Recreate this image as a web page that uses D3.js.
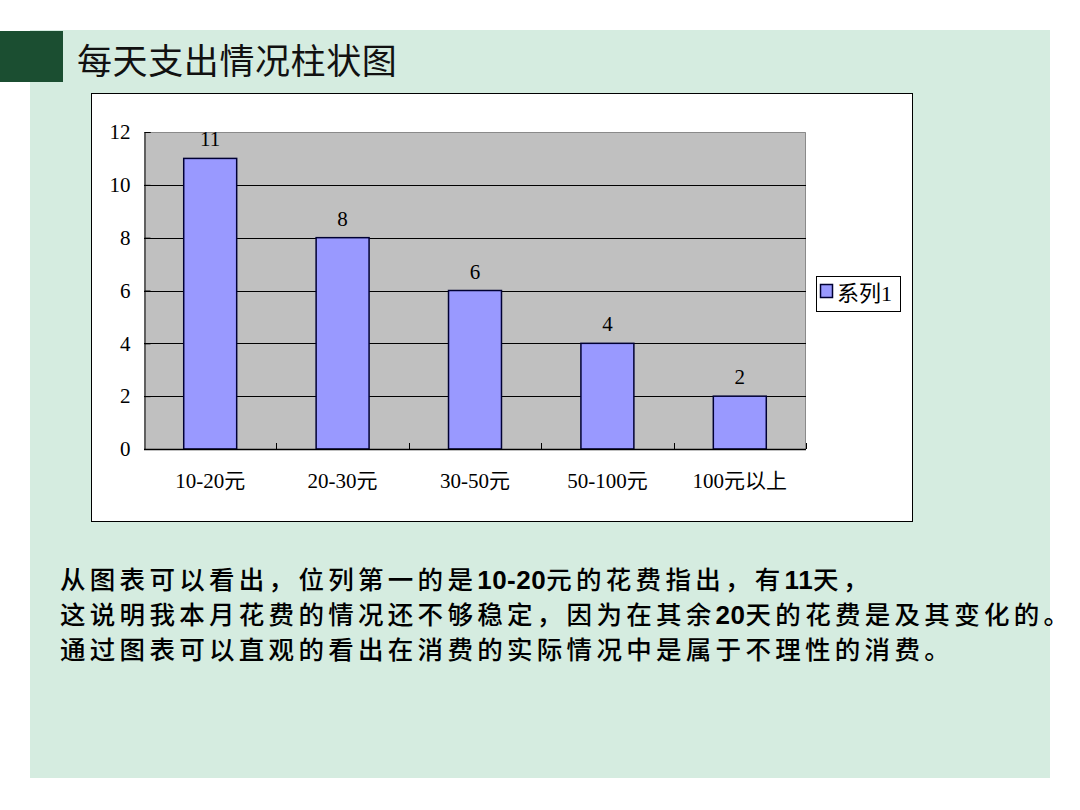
<!DOCTYPE html>
<html><head><meta charset="utf-8">
<script src="https://cdn.jsdelivr.net/npm/d3@7/dist/d3.min.js"></script>
<style>
html,body{margin:0;padding:0;background:#fff;}
svg{display:block;}
</style></head>
<body>
<svg id="c" width="1080" height="810"></svg>
<script>
const title = "每天支出情况柱状图";
const categories = ["10-20元", "20-30元", "30-50元", "50-100元", "100元以上"];
const values = [11, 8, 6, 4, 2];
const yTicks = [0, 2, 4, 6, 8, 10, 12];
const seriesName = "系列1";
const lines = [
  [["从图表可以看出，位列第一的是", false], ["10-20", true], ["元的花费指出，有", false], ["11", true], ["天，", false]],
  [["这说明我本月花费的情况还不够稳定，因为在其余", false], ["20", true], ["天的花费是及其变化的。", false]],
  [["通过图表可以直观的看出在消费的实际情况中是属于不理性的消费。", false]]
];

const svg = d3.select("#c");
const serif = "'Liberation Serif','Noto Sans CJK SC',serif";
const cjk = "'Noto Sans CJK SC','Noto Sans',sans-serif";

// slide background
svg.append("rect").attr("x",30).attr("y",30).attr("width",1020).attr("height",748).attr("fill","#D5ECE0");
svg.append("rect").attr("x",0).attr("y",31).attr("width",63).attr("height",51).attr("fill","#1B4E31");
svg.append("text").attr("x",77).attr("y",74).attr("font-family",cjk).attr("font-size",35)
  .attr("letter-spacing",0.6).attr("fill","#111").text(title);

// chart frame
svg.append("rect").attr("x",91.5).attr("y",93.5).attr("width",821).attr("height",428)
  .attr("fill","#fff").attr("stroke","#000").attr("stroke-width",1);

const L = 144, R = 806, T = 132, B = 449;
const x = d3.scaleBand().domain(categories).range([L, R]).paddingInner(0.6).paddingOuter(0.3);
const y = d3.scaleLinear().domain([0, 12]).range([B, T]);

svg.append("rect").attr("x",L).attr("y",T).attr("width",R-L).attr("height",B-T).attr("fill","#C0C0C0");
svg.append("path").attr("d",`M${L},${T+0.5}H${R-0.5}V${B}`).attr("fill","none").attr("stroke","#8a8a8a").attr("stroke-width",1);

// gridlines
svg.append("g").selectAll("line").data(yTicks.filter(d => d > 0 && d < 12)).join("line")
  .attr("x1",L).attr("x2",R).attr("y1",d => Math.round(y(d))+0.5).attr("y2",d => Math.round(y(d))+0.5)
  .attr("stroke","#000").attr("stroke-width",1);

// y axis
const yAxis = d3.axisLeft(y).tickValues(yTicks).tickSize(-6).tickPadding(14);
const gy = svg.append("g").attr("transform",`translate(${L+0.5},0)`).call(yAxis);
gy.select(".domain").attr("stroke","#000");
gy.selectAll(".tick line").attr("stroke","#000");
gy.selectAll("text").attr("font-family",serif).attr("font-size",21).attr("fill","#000");

// bars
svg.append("g").selectAll("rect").data(values).join("rect")
  .attr("x",(d,i) => x(categories[i]))
  .attr("y",d => y(d))
  .attr("width",x.bandwidth())
  .attr("height",d => y(0) - y(d))
  .attr("fill","#9999FF").attr("stroke","#000033").attr("stroke-width",1.5);

// data labels
svg.append("g").selectAll("text").data(values).join("text")
  .attr("x",(d,i) => x(categories[i]) + x.bandwidth()/2)
  .attr("y",d => y(d) - 12)
  .attr("text-anchor","middle").attr("font-family",serif).attr("font-size",21).attr("fill","#000")
  .text(d => d);

// x axis
const step = x.step();
const bounds = d3.range(categories.length + 1).map(i => L + i * step);
svg.append("line").attr("x1",L).attr("x2",R).attr("y1",B+0.5).attr("y2",B+0.5).attr("stroke","#000").attr("stroke-width",1.5);
svg.append("g").selectAll("line").data(bounds.slice(1)).join("line")
  .attr("x1",d => Math.round(d)+0.5).attr("x2",d => Math.round(d)+0.5).attr("y1",B-6).attr("y2",B)
  .attr("stroke","#000");
svg.append("g").selectAll("text").data(categories).join("text")
  .attr("x",d => x(d) + x.bandwidth()/2)
  .attr("y",488)
  .attr("text-anchor","middle").attr("font-family",serif).attr("font-size",21).attr("fill","#000")
  .text(d => d);

// legend
svg.append("rect").attr("x",816.5).attr("y",276.5).attr("width",84).attr("height",35)
  .attr("fill","#fff").attr("stroke","#000");
svg.append("rect").attr("x",820.5).attr("y",284.5).attr("width",12).attr("height",13)
  .attr("fill","#9999FF").attr("stroke","#000033").attr("stroke-width",1.5);
svg.append("text").attr("x",837).attr("y",301).attr("font-family",serif).attr("font-size",22)
  .attr("fill","#000").text(seriesName);

// paragraph
const baselines = [589, 624, 659];
lines.forEach((segs, i) => {
  const t = svg.append("text").attr("x",60).attr("y",baselines[i]).attr("font-size",25.5)
    .attr("fill","#000");
  segs.forEach(([s, b]) => {
    t.append("tspan").attr("font-family", b ? "'Liberation Sans','Open Sans',sans-serif" : cjk)
      .attr("font-weight", b ? "bold" : 500).attr("letter-spacing", b ? 0.5 : 4.3)
      .attr("font-size", b ? 26 : 25.5)
      .text(s);
  });
});
</script>
</body></html>
